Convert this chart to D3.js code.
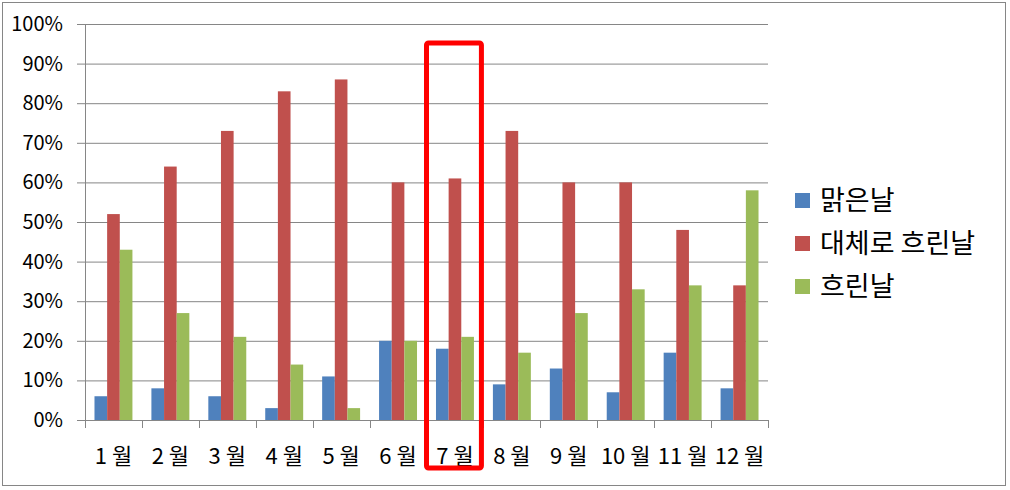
<!DOCTYPE html>
<html>
<head>
<meta charset="utf-8">
<script src="https://cdn.jsdelivr.net/npm/d3@7"></script>
<style>
  body { margin: 0; background: #fff; }
  text { font-family: "Noto Sans CJK KR", "Noto Sans", sans-serif; fill: #000; }
</style>
</head>
<body>
<div class="canvas"></div>
<script>
// data
const months = ['1 월', '2 월', '3 월', '4 월', '5 월', '6 월', '7 월', '8 월', '9 월', '10 월', '11 월', '12 월'];
const seriesNames = ['맑은날', '대체로 흐린날', '흐린날'];
const sunny = [6, 8, 6, 3, 11, 20, 18, 9, 13, 7, 17, 8];
const mostlyCloudy = [52, 64, 73, 83, 86, 60, 61, 73, 60, 60, 48, 34];
const cloudy = [43, 27, 21, 14, 3, 20, 21, 17, 27, 33, 34, 58];
const yTicks = [0, 10, 20, 30, 40, 50, 60, 70, 80, 90, 100];
const highlightMonth = '7 월';

const colors = ['#4F81BD', '#C0504D', '#9BBB59'];
const allSeries = [sunny, mostlyCloudy, cloudy];

const width = 1010, height = 490;
const margin = { top: 24, right: 242, bottom: 70, left: 85 };
const plotW = width - margin.left - margin.right;
const plotH = height - margin.top - margin.bottom;

const svg = d3.select('.canvas').append('svg')
    .attr('width', width)
    .attr('height', height);

// outer frame
svg.append('rect')
    .attr('x', 2.5).attr('y', 2.5)
    .attr('width', 1003).attr('height', 483)
    .attr('fill', '#fff')
    .attr('stroke', '#868686');

const graph = svg.append('g')
    .attr('transform', `translate(${margin.left}, ${margin.top})`);

const x = d3.scaleBand()
    .domain(months)
    .range([0, plotW])
    .paddingInner(0)
    .paddingOuter(0);

// 3 bars + gap of 150%
const barW = x.bandwidth() / 4.5;
const groupOffset = (x.bandwidth() - 3 * barW) / 2;

const y = d3.scaleLinear()
    .domain([0, 100])
    .range([plotH, 0]);

// gridlines + y axis
const yAxis = d3.axisLeft(y)
    .tickValues(yTicks)
    .tickSize(-plotW - 8)
    .tickPadding(14)
    .tickFormat(d => d + '%');

const yAxisGroup = graph.append('g')
    .call(yAxis);
yAxisGroup.select('.domain').remove();
yAxisGroup.selectAll('.tick line')
    .attr('x1', -8).attr('x2', plotW)
    .attr('stroke', '#868686');
yAxisGroup.selectAll('.tick text')
    .attr('x', -22)
    .attr('font-size', 20)
    .style('font-family', '"Noto Sans CJK KR", sans-serif');

// vertical axis line
graph.append('line')
    .attr('x1', 0.5).attr('x2', 0.5)
    .attr('y1', 0).attr('y2', plotH)
    .attr('stroke', '#868686');

// bars
allSeries.forEach((vals, si) => {
    graph.append('g').selectAll('rect')
        .data(vals)
        .enter()
        .append('rect')
        .attr('x', (d, i) => x(months[i]) + groupOffset + si * barW)
        .attr('y', d => y(d))
        .attr('width', barW)
        .attr('height', d => plotH - y(d))
        .attr('fill', colors[si]);
});

// x axis
const xAxisGroup = graph.append('g')
    .attr('transform', `translate(0, ${plotH})`);
xAxisGroup.append('line')
    .attr('x1', 0).attr('x2', plotW)
    .attr('y1', 0.5).attr('y2', 0.5)
    .attr('stroke', '#868686');
const bounds = months.map(m => x(m)).concat([plotW]);
xAxisGroup.selectAll('.xtick')
    .data(bounds)
    .enter()
    .append('line')
    .attr('x1', d => Math.round(d) + 0.5).attr('x2', d => Math.round(d) + 0.5)
    .attr('y1', 0).attr('y2', 8)
    .attr('stroke', '#868686');
xAxisGroup.selectAll('.xlabel')
    .data(months)
    .enter()
    .append('text')
    .attr('x', d => x(d) + x.bandwidth() / 2)
    .attr('y', 44)
    .attr('text-anchor', 'middle')
    .attr('font-size', 22)
    .text(d => d);

// highlight box around July
graph.append('rect')
    .attr('x', x(highlightMonth))
    .attr('y', 43 - margin.top)
    .attr('width', x.bandwidth() - 2)
    .attr('height', 468 - 43)
    .attr('rx', 2)
    .attr('fill', 'none')
    .attr('stroke', '#FF0000')
    .attr('stroke-width', 5);

// legend
const legend = svg.append('g')
    .attr('transform', 'translate(795, 193)');
const items = legend.selectAll('g')
    .data(seriesNames)
    .enter()
    .append('g')
    .attr('transform', (d, i) => `translate(0, ${i * 43})`);
items.append('rect')
    .attr('width', 15).attr('height', 15)
    .attr('fill', (d, i) => colors[i]);
items.append('text')
    .attr('x', 25)
    .attr('y', 17)
    .attr('font-size', 27)
    .text(d => d);
</script>
</body>
</html>
